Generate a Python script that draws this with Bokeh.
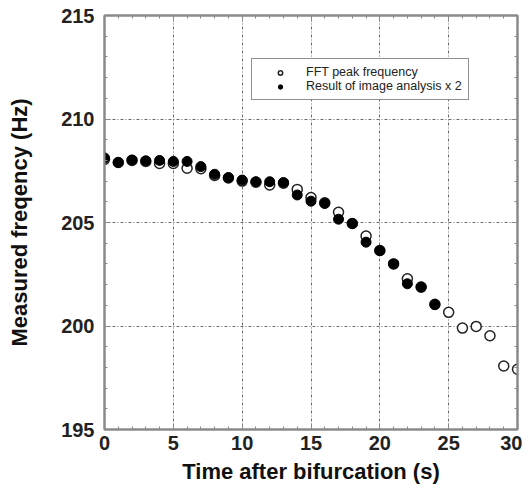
from bokeh.plotting import figure
from bokeh.models import (ColumnDataSource, LinearAxis, SingleIntervalTicker,
                          Range1d, Legend, LegendItem, CustomJSTickFormatter)
from bokeh.embed import file_html
from bokeh.resources import INLINE

# ---- data ----
time_fft = list(range(0, 31))
freq_fft = [208.05, 207.9, 208.0, 207.95, 207.85, 207.85, 207.62, 207.6, 207.27,
            207.15, 207.0, 206.95, 206.81, 206.9, 206.6, 206.21, 205.95, 205.49,
            204.95, 204.35, 203.65, 203.0, 202.28, 201.88, 201.05, 200.66,
            199.9, 199.98, 199.53, 198.07, 197.91]

time_img = list(range(0, 25))
freq_img = [208.12, 207.9, 208.02, 207.98, 208.0, 207.95, 207.95, 207.7, 207.33,
            207.17, 207.05, 206.97, 206.97, 206.93, 206.33, 206.03, 205.92,
            205.16, 204.95, 204.05, 203.64, 203.0, 202.04, 201.88, 201.03]

label_fft = "FFT peak frequency"
label_img = "Result of image analysis x 2"
x_label = "Time after bifurcation (s)"
y_label = "Measured freqency (Hz)"

FONT = "Liberation Sans"
GRAY = "#8a8a8a"

p = figure(width=522, height=488, output_backend="svg", toolbar_location=None,
           x_range=Range1d(0, 30), y_range=Range1d(195, 215),
           min_border_left=104, min_border_right=5, min_border_top=15,
           min_border_bottom=59, background_fill_color="white",
           border_fill_color="white")

p.outline_line_color = GRAY
p.outline_line_width = 2

xt = SingleIntervalTicker(interval=5, num_minor_ticks=5)
yt = SingleIntervalTicker(interval=5, num_minor_ticks=5)
p.xaxis.ticker = xt
p.yaxis.ticker = yt

for ax in (p.xaxis[0], p.yaxis[0]):
    ax.axis_line_color = GRAY
    ax.axis_line_width = 2
    ax.major_tick_line_color = GRAY
    ax.minor_tick_line_color = GRAY
    ax.major_tick_in = 6
    ax.major_tick_out = 0
    ax.minor_tick_in = 3
    ax.minor_tick_out = 0
    ax.major_label_text_font = FONT
    ax.major_label_text_font_style = "bold"
    ax.major_label_text_font_size = "20px"
    ax.major_label_text_color = "#222222"
    ax.axis_label_text_font = FONT
    ax.axis_label_text_font_style = "bold"
    ax.axis_label_text_font_size = "22px"
    ax.axis_label_text_color = "#111111"

p.xaxis.axis_label = x_label
p.yaxis.axis_label = y_label
p.xaxis.major_label_standoff = 6
p.yaxis.major_label_standoff = 10
p.xaxis.axis_label_standoff = 6
p.yaxis.axis_label_standoff = 26

blank = CustomJSTickFormatter(code="return '';")
for loc, tk in (("right", yt), ("above", xt)):
    ax = LinearAxis(ticker=tk, formatter=blank)
    ax.axis_line_color = GRAY
    ax.axis_line_width = 2
    ax.major_tick_line_color = GRAY
    ax.minor_tick_line_color = GRAY
    ax.major_tick_in = 6
    ax.major_tick_out = 0
    ax.minor_tick_in = 3
    ax.minor_tick_out = 0
    ax.major_label_standoff = 0
    p.add_layout(ax, loc)

p.grid.grid_line_color = "#6a6a6a"
p.grid.grid_line_dash = "3 2 1 2"
p.grid.grid_line_width = 1

src_fft = ColumnDataSource(dict(x=time_fft, y=freq_fft))
src_img = ColumnDataSource(dict(x=time_img, y=freq_img))

r_fft = p.scatter("x", "y", source=src_fft, size=10, marker="circle",
                  fill_color="white", line_color="#222222", line_width=1.5)
r_img = p.scatter("x", "y", source=src_img, size=10, marker="circle",
                  fill_color="black", line_color="black", line_width=1)

# legend glyph renderers (smaller markers, nothing drawn in the plot)
nan = float("nan")
leg_fft = p.scatter(x=[nan], y=[nan], size=7, marker="circle", fill_color="white",
                    line_color="#222222", line_width=1.5)
leg_img = p.scatter(x=[nan], y=[nan], size=7, marker="circle", fill_color="black",
                    line_color="black")

legend = Legend(items=[LegendItem(label=label_fft, renderers=[leg_fft]),
                       LegendItem(label=label_img, renderers=[leg_img])],
                location=(147, 329), margin=0, padding=6, spacing=-3,
                glyph_width=44, glyph_height=11, label_height=11,
                label_standoff=4, label_text_font=FONT,
                label_text_font_size="12.5px", label_text_color="#222222",
                label_text_line_height=0.9,
                border_line_color="#222222", border_line_width=1,
                background_fill_color="white", background_fill_alpha=1)
p.add_layout(legend)

open("out.html", "w").write(file_html(p, INLINE))
